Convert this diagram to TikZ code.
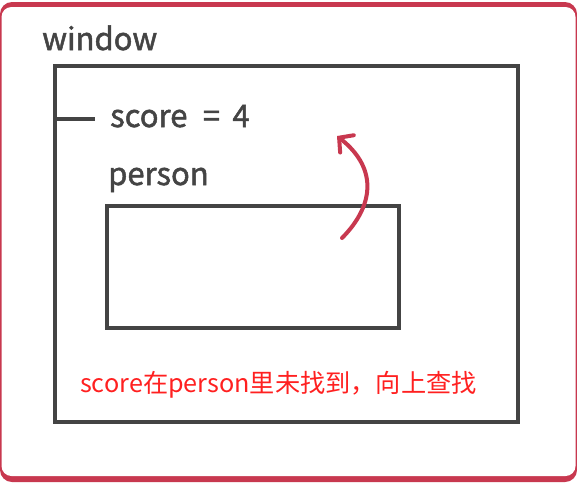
\documentclass[tikz,border=0pt]{standalone}
\usepackage{fontspec}
\setmainfont{Noto Sans CJK SC}
\newfontfamily\labelfont[FakeBold=1.6]{Noto Sans CJK SC}
\usetikzlibrary{arrows.meta}
\definecolor{framered}{HTML}{C8384F}
\definecolor{ink}{HTML}{444444}
\definecolor{notered}{HTML}{FF2020}
\tikzset{
  box/.style={draw=ink, line width=4pt},
  label/.style={inner sep=0pt, anchor=base west, text=ink, font=\labelfont\fontsize{31}{36}\selectfont},
  note/.style={inner sep=0pt, anchor=base west, text=notered, font=\fontsize{25.2}{30}\selectfont},
  uparrow/.style={draw=framered, line width=4pt, line cap=round, -{Straight Barb[length=10pt,width=22pt,line cap=round]}}
}
\begin{document}
\begin{tikzpicture}[x=1pt,y=-1pt]
\useasboundingbox (0,0) rectangle (577,482);
% outer frame
\fill[framered] (0,2) [rounded corners=12pt] rectangle (577,482);
\fill[white] (1.5,7) [rounded corners=10pt] rectangle (575.5,476);
% window box
\draw[box] (55,66) rectangle (518,422);
\node[label] (window) at (42,50) {window};
% score line
\coordinate (dashL) at (57,119);
\coordinate (dashR) at (95,119);
\draw[draw=ink, line width=4pt] (dashL) -- (dashR);
\node[label] (score) at (110,127) {score\hspace{0.5em}=\hspace{0.4em}4};
\node[label] (person) at (108,185) {person};
% person box
\draw[box] (107,206) rectangle (399,328);
% arrow
\coordinate (aS) at (342,238);
\coordinate (aE) at (337,136);
\draw[uparrow] (aS) .. controls (372,208) and (380,170) .. (aE);
% note
\node[note] (note) at (80,392) {score在person里未找到，向上查找};
\end{tikzpicture}
\end{document}
